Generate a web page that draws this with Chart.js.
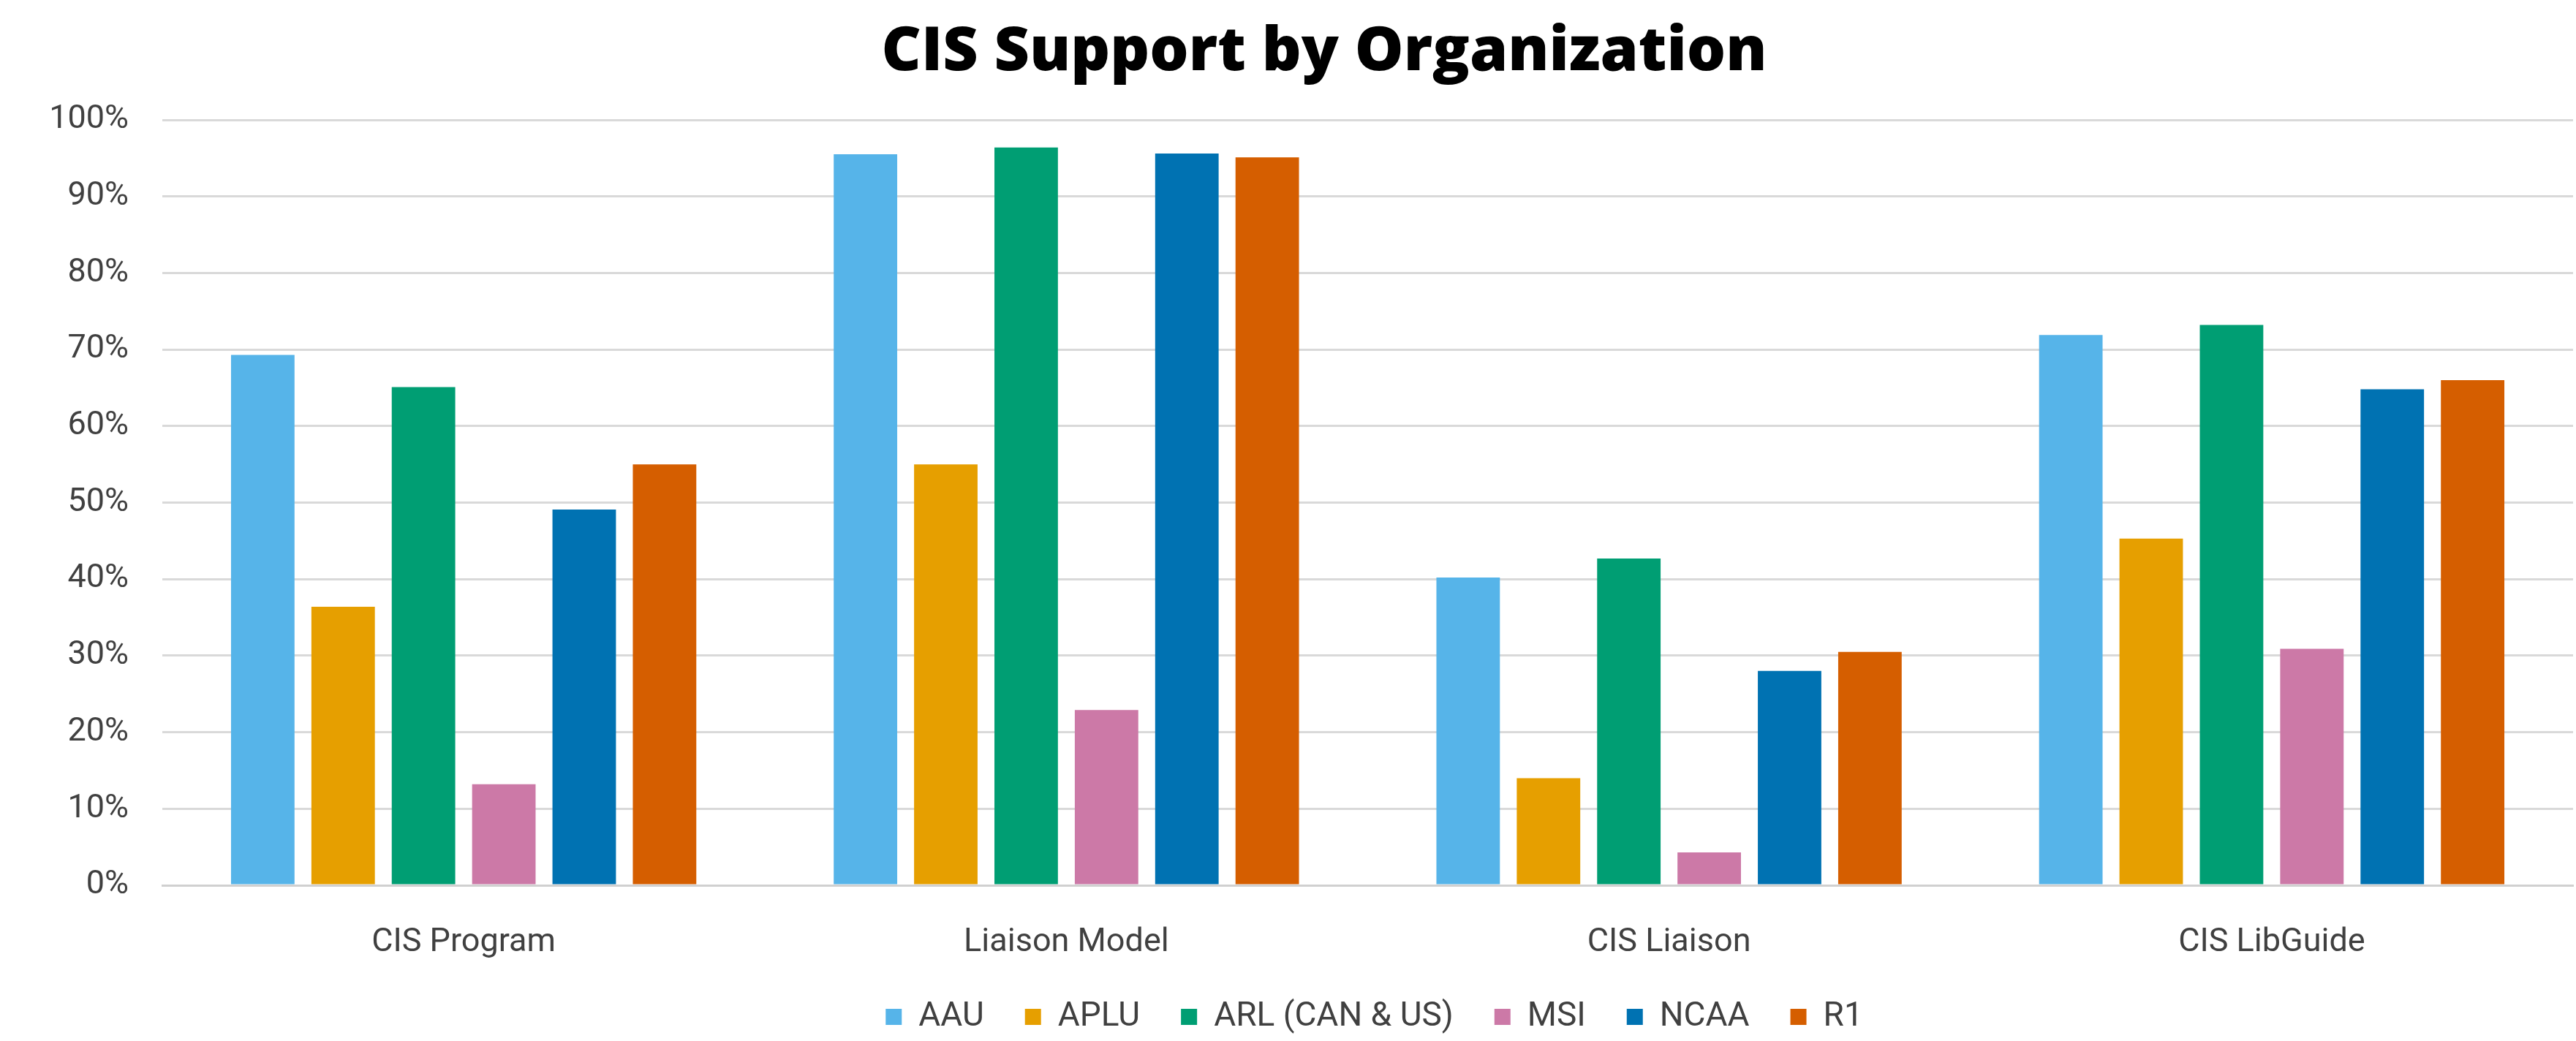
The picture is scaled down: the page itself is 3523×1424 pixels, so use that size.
<!DOCTYPE html>
<html>
<head>
<meta charset="utf-8">
<title>CIS Support by Organization</title>
<script src="https://cdn.jsdelivr.net/npm/chart.js@4"></script>
<style>
  html, body { margin: 0; padding: 0; background: #fff; }
  #wrap { width: 3523px; height: 1424px; }
</style>
</head>
<body>
<div id="wrap"><canvas id="chart" width="3523" height="1424"></canvas></div>
<script>
// categories and series (percent)
const categories = ['CIS Program', 'Liaison Model', 'CIS Liaison', 'CIS LibGuide'];
const seriesNames = ['AAU', 'APLU', 'ARL (CAN & US)', 'MSI', 'NCAA', 'R1'];
const aau   = [69.3, 95.5, 40.2, 71.9];
const aplu  = [36.4, 55.0, 14.0, 45.3];
const arl   = [65.1, 96.4, 42.7, 73.2];
const msi   = [13.2, 22.9, 4.3, 30.9];
const ncaa  = [49.1, 95.6, 28.0, 64.8];
const r1    = [55.0, 95.1, 30.5, 66.0];
const yTicks = [0, 10, 20, 30, 40, 50, 60, 70, 80, 90, 100];
const titleText = 'CIS Support by Organization';

const colors = ['#56B4E9', '#E69F00', '#009E73', '#CC79A7', '#0072B2', '#D55E00'];
const allSeries = [aau, aplu, arl, msi, ncaa, r1];

const labelFont = "'Roboto', 'Liberation Sans', sans-serif";

const datasets = seriesNames.map((name, i) => ({
  label: name,
  data: allSeries[i],
  backgroundColor: colors[i],
  borderWidth: 0,
  categoryPercentage: 0.8,
  barPercentage: 0.79
}));

// title drawn a bit right of centre, like the source image
const titlePlugin = {
  id: 'offsetTitle',
  afterLayout(chart) {
    // legend in the source sits slightly right of the page centre too
    chart.legend.left += 240;
  },
  afterDraw(chart) {
    const ctx = chart.ctx;
    ctx.save();
    ctx.font = "800 84px 'Open Sans', 'Lato', sans-serif";
    ctx.fillStyle = '#000';
    ctx.textAlign = 'center';
    ctx.textBaseline = 'alphabetic';
    ctx.fillText(titleText, 1811, 96);
    ctx.restore();
  }
};

new Chart(document.getElementById('chart'), {
  type: 'bar',
  data: { labels: categories, datasets: datasets },
  plugins: [titlePlugin],
  options: {
    responsive: false,
    animation: false,
    layout: { padding: { left: 0, right: 4, top: 164, bottom: 0 } },
    plugins: {
      title: { display: false },
      legend: {
        position: 'bottom',
        labels: {
          color: '#404040',
          font: { family: labelFont, size: 46 },
          boxWidth: 22,
          boxHeight: 22,
          padding: 56
        }
      },
      tooltip: { enabled: false }
    },
    scales: {
      x: {
        afterFit: (scale) => { scale.height = 101; },
        grid: { display: false },
        border: { display: true, color: '#d0d0d0', width: 3 },
        ticks: { color: '#404040', font: { family: labelFont, size: 45 }, padding: 44 }
      },
      y: {
        min: 0,
        max: 100,
        afterFit: (scale) => { scale.width = 222; },
        afterBuildTicks: (scale) => { scale.ticks = yTicks.map(v => ({ value: v })); },
        grid: { color: '#d9d9d9', lineWidth: 3, drawTicks: false },
        border: { display: false },
        ticks: {
          color: '#404040',
          font: { family: labelFont, size: 45 },
          padding: 46,
          callback: (v) => v + '%'
        }
      }
    }
  }
});
</script>
</body>
</html>
